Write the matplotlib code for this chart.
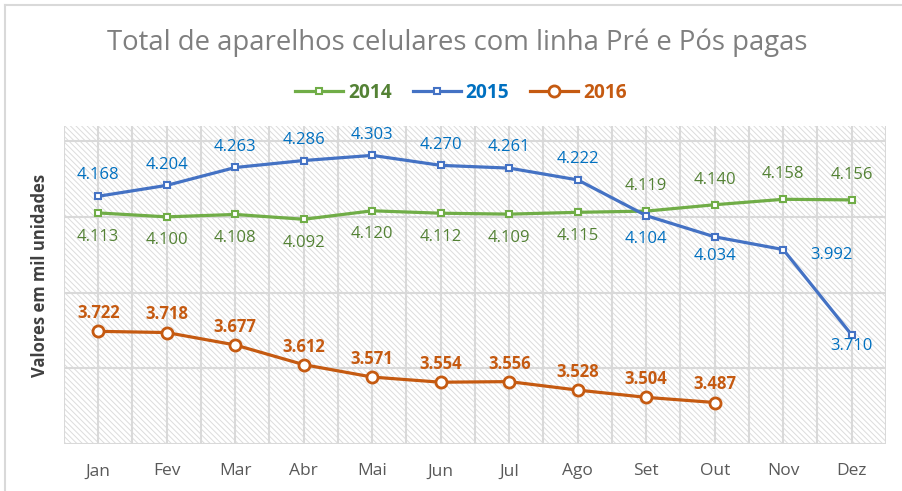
import matplotlib.pyplot as plt
import numpy as np
from matplotlib.patches import Rectangle
from matplotlib.lines import Line2D

plt.rcParams['font.family'] = ['Open Sans', 'DejaVu Sans']
plt.rcParams['hatch.linewidth'] = 0.7

# Data (mil unidades)
months = ["Jan", "Fev", "Mar", "Abr", "Mai", "Jun", "Jul", "Ago", "Set", "Out", "Nov", "Dez"]
v2014 = [4.113, 4.100, 4.108, 4.092, 4.120, 4.112, 4.109, 4.115, 4.119, 4.140, 4.158, 4.156]
v2015 = [4.168, 4.204, 4.263, 4.286, 4.303, 4.270, 4.261, 4.222, 4.104, 4.034, 3.992, 3.710]
v2016 = [3.722, 3.718, 3.677, 3.612, 3.571, 3.554, 3.556, 3.528, 3.504, 3.487]

c14, c15, c16 = "#70AD47", "#4472C4", "#C55A11"
t14, t15, t16 = "#548235", "#0070C0", "#C55A11"
grey = "#595959"

fig = plt.figure(figsize=(9.03, 4.91), dpi=100)
ax = fig.add_axes([64/903, 1-444/491, (886-64)/903, (444-126)/491])

# hatched background
ax.add_patch(Rectangle((0, 0), 1, 1, transform=ax.transAxes, facecolor="white",
                       edgecolor="#dcdcdc", hatch="\\\\\\\\\\\\", linewidth=0, zorder=0))

x = np.arange(len(months))
ax.set_xlim(-0.5, 11.5)
ax.set_ylim(3.35, 4.40)

for yv in np.arange(3.35, 4.36, 0.25):
    ax.axhline(yv, color="#d9d9d9", lw=1.5, zorder=1)
for xv in np.arange(-0.5, 11.51, 0.5):
    ax.axvline(xv, color="#d9d9d9", lw=1.5, zorder=1)

ax.plot(x, v2014, color=c14, lw=2.3, marker="s", ms=4.5, mfc="white", mec=c14, mew=1.5, zorder=3, label="2014")
ax.plot(x, v2015, color=c15, lw=2.3, marker="s", ms=4.5, mfc="white", mec=c15, mew=1.5, zorder=3, label="2015")
ax.plot(x[:len(v2016)], v2016, color=c16, lw=2.3, marker="o", ms=8, mfc="white", mec=c16, mew=2, zorder=4, label="2016")

# data labels
for i, v in enumerate(v2014):
    dy = -17 if i < 8 else 18
    ax.annotate(f"{v:.3f}", (i, v), xytext=(0, dy), textcoords="offset points",
                ha="center", va="center", color=t14, fontsize=12)
off15 = [15] * 8 + [-17, -14, None, -8]
for i, v in enumerate(v2015):
    if i == 10:
        ax.annotate(f"{v:.3f}", (i, v), xytext=(35, -4), textcoords="offset points",
                    ha="center", va="center", color=t15, fontsize=12)
    else:
        ax.annotate(f"{v:.3f}", (i, v), xytext=(0, off15[i]), textcoords="offset points",
                    ha="center", va="center", color=t15, fontsize=12)
for i, v in enumerate(v2016):
    ax.annotate(f"{v:.3f}", (i, v), xytext=(0, 13), textcoords="offset points",
                ha="center", va="center", color=t16, fontsize=12, fontweight="bold")

ax.set_xticks(x)
ax.set_xticklabels(months, color=grey, fontsize=12.5)
ax.tick_params(axis="x", length=0, pad=14)
ax.set_yticks([])
for s in ax.spines.values():
    s.set_visible(False)

fig.text(40/903, 1-275/491, "Valores em mil unidades", rotation=90, ha="center", va="center",
         color="#404040", fontsize=12, fontweight="bold")
fig.text(457/903, 1-43/491, "Total de aparelhos celulares com linha Pré e Pós pagas",
         ha="center", va="center", color="#7f7f7f", fontsize=19.8)

leg = fig.legend(loc="center", bbox_to_anchor=(461/903, 1-93/491), ncol=3, frameon=False,
                 handlelength=2.5, columnspacing=1.1, handletextpad=0.25,
                 prop={"weight": "bold", "size": 13.8})
for txt, col in zip(leg.get_texts(), [t14, t15, t16]):
    txt.set_color(col)

# chart border (top and left visible)
fig.add_artist(Line2D([5/903, 5/903], [0, 1-5/491], color="#d9d9d9", lw=1.5))
fig.add_artist(Line2D([5/903, 1], [1-5/491, 1-5/491], color="#d9d9d9", lw=1.5))

fig.savefig("out.png", dpi=100)
